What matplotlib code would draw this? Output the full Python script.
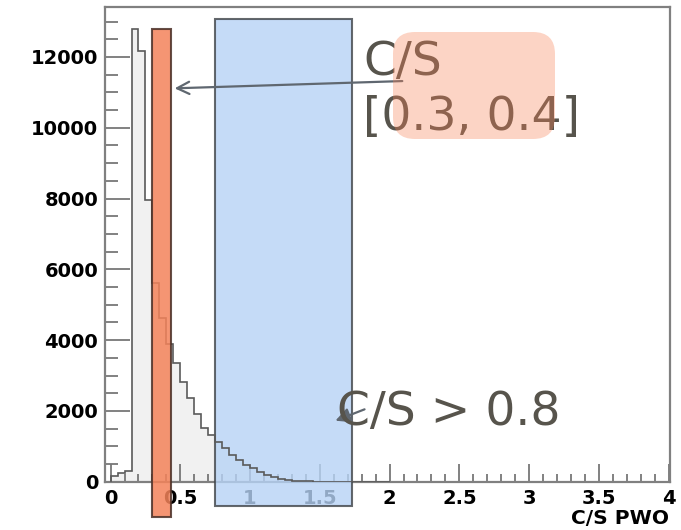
import numpy as np
import matplotlib
matplotlib.use('Agg')
import matplotlib.pyplot as plt
from matplotlib.patches import Rectangle, FancyBboxPatch
from matplotlib.ticker import MultipleLocator

# C/S ratio histogram, 0.05 wide bins
bin_edges = np.round(np.arange(0.0, 2.0001, 0.05), 2)
counts = [150, 250, 300, 12780, 12175, 7960, 5620, 4615, 3880, 3345,
          2825, 2355, 1910, 1510, 1320, 1130, 945, 755, 615, 470,
          380, 285, 190, 125, 70, 50, 30, 20, 10, 5,
          0, 0, 0, 0, 0, 0, 0, 0, 0, 0]

# selected C/S windows
low_cut = (0.3, 0.4)
high_cut = 0.8
high_cut_end = 1.73

tick_font = {'family': 'DejaVu Sans', 'weight': 'bold', 'size': 14}
note_color = '#57544c'
arrow_color = '#5f6770'

fig = plt.figure(figsize=(6.81, 5.30), dpi=100)
ax = fig.add_axes([0.1542, 0.0911, 0.8296, 0.8957])

ax.stairs(counts, bin_edges, fill=True, color='#f1f1f1', zorder=1)
ax.stairs(counts, bin_edges, color='#5a5a5a', lw=1.2, zorder=3.5)

# high C/S region
ax.add_patch(Rectangle((high_cut - 0.05, -700), high_cut_end - high_cut + 0.05, 13770,
                       facecolor='#b7d3f6', alpha=0.8, edgecolor='#3f4347',
                       lw=1.5, zorder=3, clip_on=False))
# low C/S window
ax.add_patch(Rectangle((low_cut[0] - 0.005, -990), 0.135, 13770,
                       facecolor='#f4835a', alpha=0.85, edgecolor='#4a3028',
                       lw=1.5, zorder=4, clip_on=False))

ax.set_xlim(-0.04, 4.01)
ax.set_ylim(0, 13410)
ax.xaxis.set_major_locator(MultipleLocator(0.5))
ax.xaxis.set_minor_locator(MultipleLocator(0.1))
ax.yaxis.set_major_locator(MultipleLocator(2000))
ax.yaxis.set_minor_locator(MultipleLocator(500))
ax.set_xticks(np.arange(0, 4.01, 0.5))
ax.set_xticklabels(['0', '0.5', '1', '1.5', '2', '2.5', '3', '3.5', '4'], **tick_font)
ax.set_yticks(np.arange(0, 12001, 2000))
ax.set_yticklabels([str(v) for v in range(0, 12001, 2000)], **tick_font)
ax.tick_params(axis='x', which='major', direction='in', length=13, width=1.3,
               color='#777777', pad=5)
ax.tick_params(axis='x', which='minor', direction='in', length=6, width=1.3,
               color='#777777')
ax.tick_params(axis='y', which='major', direction='in', length=18, width=1.3,
               color='#777777', pad=5)
ax.tick_params(axis='y', which='minor', direction='in', length=9, width=1.3,
               color='#777777')
for s in ax.spines.values():
    s.set_color('#808080')
    s.set_linewidth(1.6)

ax.text(4.0, -780, 'C/S PWO', ha='right', va='top', clip_on=False,
        family='DejaVu Sans', weight='bold', size=14.5)

# annotations
ax.text(1.81, 11489, 'C/S', fontsize=34, color=note_color, zorder=6)
ax.text(1.81, 9935, '[0.3, 0.4]', fontsize=34, color=note_color, zorder=6)
ax.annotate('', xy=(0.439, 11110), xytext=(2.111, 11320),
            arrowprops=dict(arrowstyle='->', color=arrow_color, lw=1.6,
                            mutation_scale=22), zorder=8)

ax.annotate('', xy=(1.593, 1695), xytext=(1.839, 2073),
            arrowprops=dict(arrowstyle='-|>', color=arrow_color, lw=1.6,
                            mutation_scale=22), zorder=6)
ax.text(1.621, 1602, 'C/S > 0.8', fontsize=34, color=note_color, zorder=7)

# translucent highlight over the low window label
ax.add_patch(FancyBboxPatch((3.93, 3.91), 1.62, 1.07,
                            boxstyle='round,pad=0,rounding_size=0.22',
                            transform=fig.dpi_scale_trans, facecolor='#f98255',
                            alpha=0.34, edgecolor='none', zorder=9))

fig.savefig('out.png', dpi=100)
